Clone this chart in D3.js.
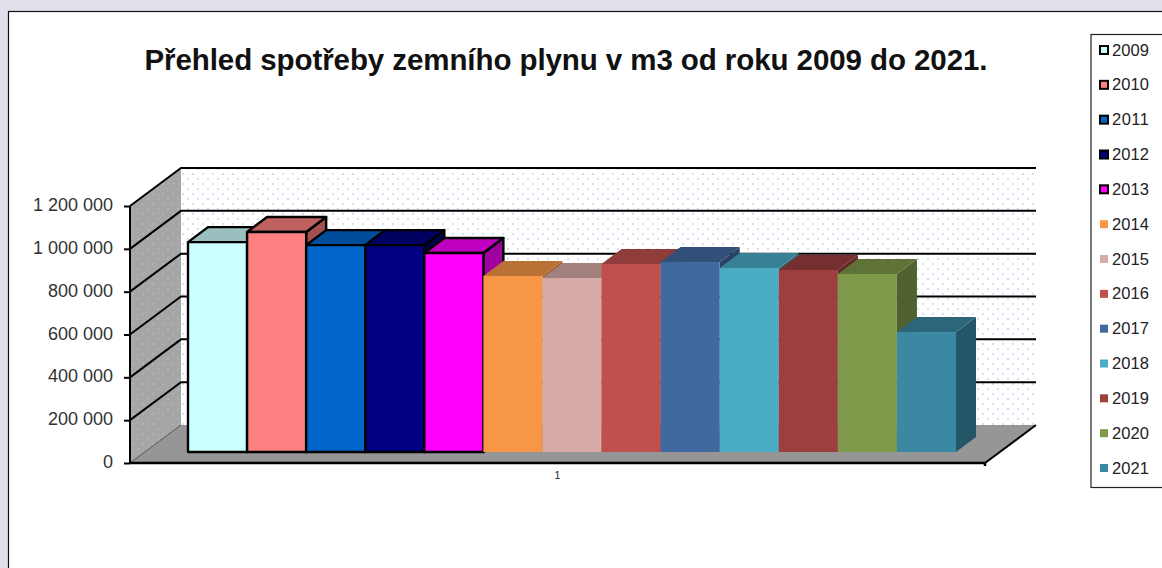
<!DOCTYPE html>
<html>
<head>
<meta charset="utf-8">
<script src="https://d3js.org/d3.v7.min.js"></script>
<style>
  html, body { margin: 0; padding: 0; background: #e3dfea; overflow: hidden; }
  svg { display: block; }
  text { font-family: "Liberation Sans", Arial, sans-serif; }
</style>
</head>
<body>
<svg id="chart" width="1162" height="568"></svg>
<script>
var years = ["2009","2010","2011","2012","2013","2014","2015","2016","2017","2018","2019","2020","2021"];
var values = [980000,1027000,966000,966000,929000,822000,812000,878000,887000,859000,850000,831000,560000];
var colors = ["#ccffff","#ff8080","#0066cc","#000080","#ff00ff","#f79646","#d8aaa8","#c0504d","#4169a0","#4bacc6","#9c3f3e","#7f994a","#3a88a4"];
var outlined = ["2009","2010","2011","2012","2013"];
var yTicks = [0,200000,400000,600000,800000,1000000,1200000];
var title = "Přehled spotřeby zemního plynu v m3 od roku 2009 do 2021.";

var svg = d3.select("#chart");

// hlavni plocha
svg.append("rect").attr("x", 8.5).attr("y", 11.5).attr("width", 1170).attr("height", 570)
  .attr("fill", "#fff").attr("stroke", "#111").attr("stroke-width", 1.2);

svg.append("text").attr("x", 566).attr("y", 70).attr("text-anchor", "middle")
  .attr("font-size", 29.5).attr("font-weight", "bold").attr("fill", "#111")
  .attr("textLength", 843).attr("lengthAdjust", "spacing").text(title);

// tecky na stenach
var defs = svg.append("defs");
var pat = defs.append("pattern").attr("id", "dots").attr("patternUnits", "userSpaceOnUse")
  .attr("width", 20).attr("height", 20);
[[2,3],[12,3],[7,8],[17,8],[2,13],[12,13],[7,18],[17,18]].forEach(function(p) {
  pat.append("rect").attr("x", p[0]).attr("y", p[1]).attr("width", 2).attr("height", 2)
    .attr("fill", "#a9bfe3").attr("opacity", 0.5);
});

var left = 130, right = 985, depthX = 51, depthY = -38;
var y = d3.scaleLinear().domain([0, 1200000]).range([463, 206]);
var fmt = d3.formatLocale({decimal: ",", thousands: " ", grouping: [3], currency: ["", ""]}).format(",d");

function poly(pts) { return "M" + pts.map(function(p) { return p.join(","); }).join("L") + "Z"; }
var top0 = y(1200000), base0 = y(0);

// zadni stena
svg.append("rect").attr("x", left + depthX).attr("y", top0 + depthY)
  .attr("width", right - left).attr("height", base0 - top0).attr("fill", "url(#dots)");

// bocni stena
var wall = poly([[left, top0], [left + depthX, top0 + depthY], [left + depthX, base0 + depthY], [left, base0]]);
svg.append("path").attr("d", wall).attr("fill", "#a6a6a6");
svg.append("path").attr("d", wall).attr("fill", "url(#dots)");

// podlaha
svg.append("path")
  .attr("d", poly([[left, base0], [left + depthX, base0 + depthY], [right + depthX, base0 + depthY], [right, base0]]))
  .attr("fill", "#969696");

// mrizka
var gridG = svg.append("g").attr("fill", "none").attr("stroke", "#000").attr("stroke-width", 2);
yTicks.slice(1).forEach(function(t) {
  gridG.append("path").attr("d", "M" + left + "," + y(t) + "L" + (left + depthX) + "," + (y(t) + depthY) + "H" + (right + depthX));
});
svg.append("line").attr("x1", left).attr("y1", base0).attr("x2", left + depthX).attr("y2", base0 + depthY)
  .attr("stroke", "#555").attr("stroke-width", 1);
svg.append("path").attr("d", "M" + right + "," + base0 + "L" + (right + depthX) + "," + (base0 + depthY))
  .attr("fill", "none").attr("stroke", "#000").attr("stroke-width", 2);

// sloupce
var x = d3.scaleBand().domain(years).range([188, 956]);
var barBase = 452, barDX = 20, barDY = -15;
var h = d3.scaleLinear().domain([0, 1200000]).range([0, 257]);

function shade(c, k) {
  var r = d3.rgb(c);
  return d3.rgb(r.r * k, r.g * k, r.b * k).formatHex();
}

var bars = svg.append("g").selectAll("g").data(years).enter().append("g")
  .attr("stroke", function(d) { return outlined.indexOf(d) >= 0 ? "#000" : "none"; })
  .attr("stroke-width", 2.4).attr("stroke-linejoin", "round");

bars.append("path").attr("fill", function(d, i) { return shade(colors[i], 0.63); })
  .attr("d", function(d, i) {
    var x1 = x(d) + x.bandwidth(), t = barBase - h(values[i]);
    return poly([[x1, t], [x1 + barDX, t + barDY], [x1 + barDX, barBase + barDY], [x1, barBase]]);
  });
bars.append("path").attr("fill", function(d, i) { return shade(colors[i], 0.75); })
  .attr("d", function(d, i) {
    var x0 = x(d), x1 = x0 + x.bandwidth(), t = barBase - h(values[i]);
    return poly([[x0, t], [x0 + barDX, t + barDY], [x1 + barDX, t + barDY], [x1, t]]);
  });
bars.append("rect").attr("fill", function(d, i) { return colors[i]; })
  .attr("x", function(d) { return x(d); })
  .attr("y", function(d, i) { return barBase - h(values[i]); })
  .attr("width", x.bandwidth())
  .attr("height", function(d, i) { return h(values[i]); });

// osy
var yAxis = d3.axisLeft(y).tickValues(yTicks).tickFormat(fmt).tickSize(6).tickPadding(11);
var yG = svg.append("g").attr("transform", "translate(" + left + ",0)").call(yAxis);
yG.select(".domain").attr("stroke", "#000").attr("stroke-width", 2).attr("d", "M0," + top0 + "V" + base0);
yG.selectAll(".tick line").attr("stroke", "#000").attr("stroke-width", 2);
yG.selectAll("text").attr("font-size", 18).attr("fill", "#333").attr("dy", "0.25em")
  .attr("font-family", '"Liberation Sans", Arial, sans-serif');

var xAxis = d3.axisBottom(d3.scaleBand().domain(["1"]).range([left, right])).tickSize(0).tickPadding(9);
var xG = svg.append("g").attr("transform", "translate(0," + base0 + ")").call(xAxis);
xG.select(".domain").attr("stroke", "#000").attr("stroke-width", 2.5).attr("d", "M" + left + ",0H" + right + "V3");
xG.selectAll("text").attr("font-size", 10.5).attr("fill", "#222").attr("font-family", '"Liberation Sans", Arial, sans-serif');

// legenda
svg.append("rect").attr("x", 1091).attr("y", 34.5).attr("width", 80).attr("height", 453)
  .attr("fill", "#fff").attr("stroke", "#222").attr("stroke-width", 1.2);
var legendY = d3.scalePoint().domain(years).range([50, 468]);
var items = svg.append("g").selectAll("g").data(years).enter().append("g")
  .attr("transform", function(d) { return "translate(0," + legendY(d) + ")"; });
items.append("rect").attr("x", 1100).attr("y", -4).attr("width", 8).attr("height", 8)
  .attr("fill", function(d, i) { return colors[i]; })
  .attr("stroke", function(d) { return outlined.indexOf(d) >= 0 ? "#000" : "none"; })
  .attr("stroke-width", 2);
items.append("text").attr("x", 1112).attr("y", 5.5).attr("font-size", 16.5).attr("fill", "#222")
  .attr("textLength", 37).attr("lengthAdjust", "spacing").text(function(d) { return d; });
</script>
</body>
</html>
